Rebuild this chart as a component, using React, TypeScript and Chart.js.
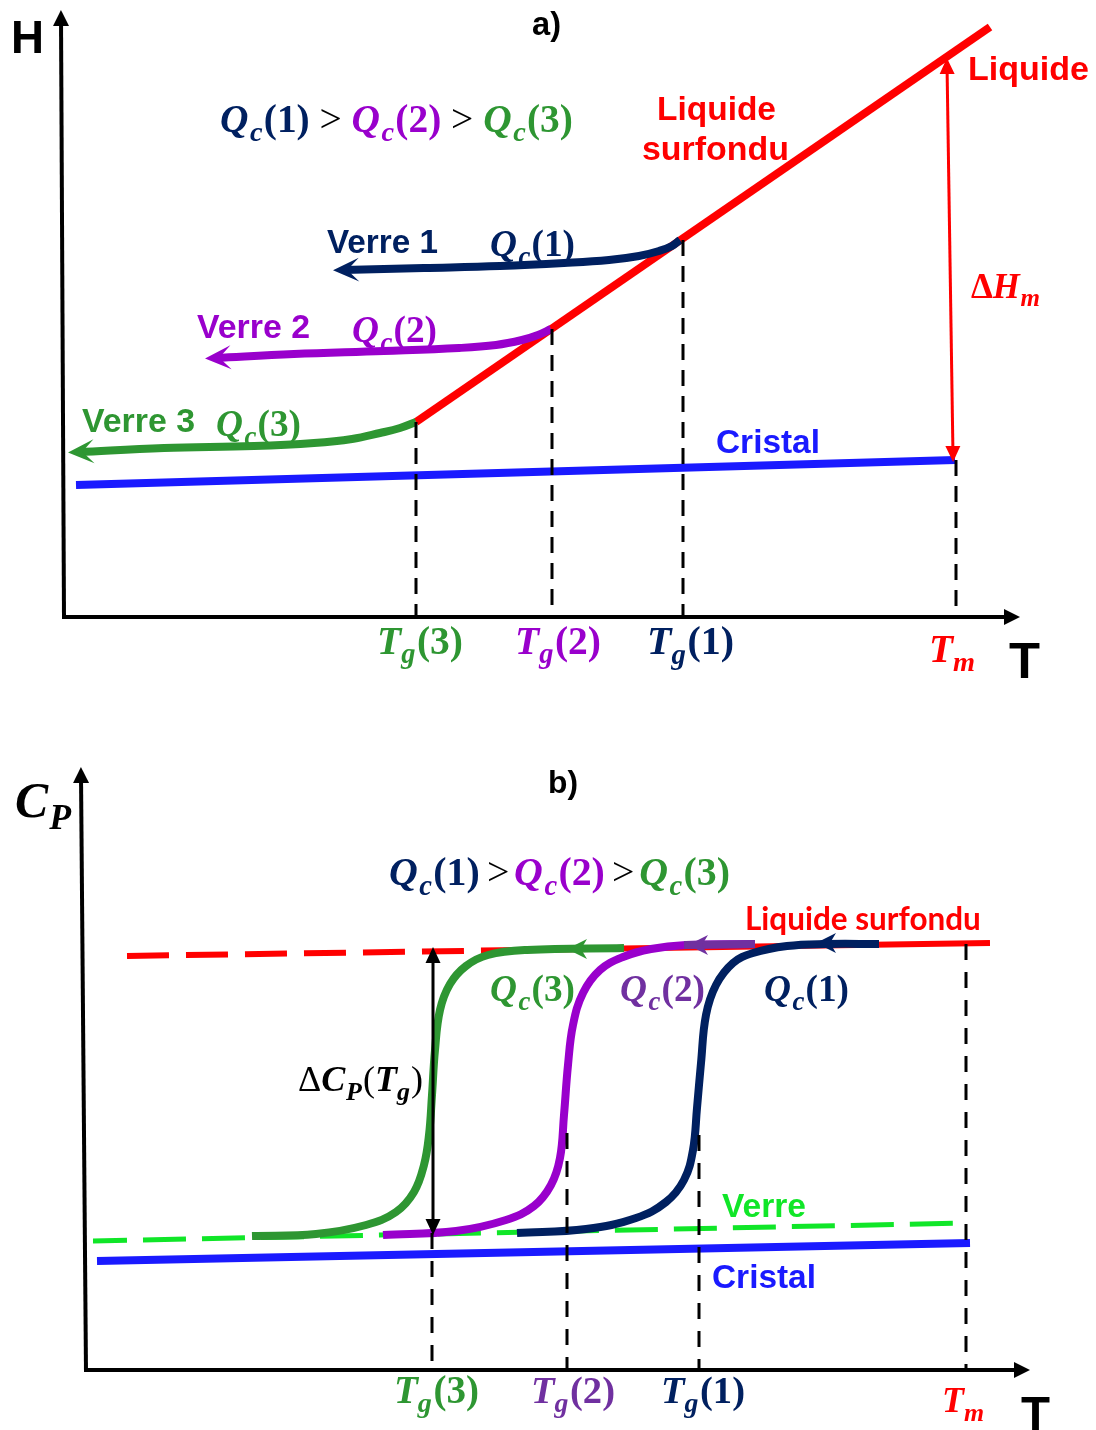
import React, { useEffect, useRef } from "react";
import { Chart, registerables } from "chart.js";

Chart.register(...registerables);

// ---------------- colours ----------------
const NAVY = "#002060";
const PURPLE = "#9900CC";
const PURPLE_D = "#7030A0";
const GREEN = "#2E9632";
const RED = "#FF0000";
const BLUE = "#1A1AFF";
const LIME = "#10E628";
const BLACK = "#000000";

const SANS = '"Liberation Sans", Arial, sans-serif';
const SERIF = '"Liberation Serif", "Times New Roman", serif';
const CALIBRI = 'Lato, "Liberation Sans", sans-serif';

// ================= PANEL a : H(T) (arbitrary units) =================
const A_LIQUID_T = [352, 926];
const A_LIQUID_H = [195, 590];
const A_CRYSTAL_T = [12, 891];
const A_CRYSTAL_H = [132, 157];
const A_GLASS1_T = [280, 360, 436, 500, 545, 575, 595, 608, 616];
const A_GLASS1_H = [347, 349, 351, 354, 357, 361, 366, 371, 377];
const A_GLASS2_T = [152, 230, 320, 395, 432, 458, 474, 487];
const A_GLASS2_H = [259, 263, 266, 269, 272, 277, 282, 288];
const A_GLASS3_T = [15, 100, 190, 250, 288, 316, 336, 352];
const A_GLASS3_H = [165, 169, 171, 174, 178, 184, 189, 195];
const A_TG_T = [352, 488, 619]; // Tg(3), Tg(2), Tg(1)
const A_TG_H = [195, 288, 377];
const A_TM_T = 892;
const A_TM_H = 157;
const A_DH_T = [889, 883]; // ΔHm arrow (bottom -> top)
const A_DH_H = [161, 553];
const A_YAXIS_T = [0, -3];
const A_YAXIS_H = [-2, 599];
const A_XAXIS_T = [-2, 948];
const A_XAXIS_H = [0, 0];

// ================= PANEL b : Cp(T) (arbitrary units) =================
const B_LIQUID_DASH_T = [41, 436];
const B_LIQUID_DASH_H = [414, 420];
const B_LIQUID_SOLID_T = [436, 904];
const B_LIQUID_SOLID_H = [420, 427];
const B_GLASSLINE_T = [7, 882];
const B_GLASSLINE_H = [129, 147];
const B_CRYSTAL_T = [11, 884];
const B_CRYSTAL_H = [109, 127];
const B_CP3_T = [166, 230, 280, 310, 328, 338, 343, 346, 349, 354, 364, 380, 402, 441, 538];
const B_CP3_H = [134, 136, 145, 158, 178, 205, 235, 275, 320, 360, 386, 404, 415, 420, 422];
const B_CP2_T = [297, 370, 420, 448, 465, 474, 478, 482, 487, 497, 514, 537, 565, 600, 669];
const B_CP2_H = [135, 139, 150, 164, 185, 212, 255, 305, 345, 377, 400, 413, 421, 425, 426];
const B_CP2_TAIL_T = [598, 669];
const B_CP2_TAIL_H = [425, 426];
const B_CP1_T = [431, 500, 550, 580, 598, 607, 611, 615, 620, 630, 647, 667, 701, 740, 793];
const B_CP1_H = [137, 141, 152, 168, 190, 220, 262, 307, 355, 385, 407, 417, 424, 426, 426];
const B_MID_ARROW_T = [481, 602, 730];
const B_MID_ARROW_H = [421, 425, 427];
const B_TG_T = [346, 481, 613];
const B_TG_H = [137, 237, 235];
const B_TM_T = 880;
const B_TM_H = 426;
const B_DCP_T = [347, 347];
const B_DCP_H = [141, 417];
const B_YAXIS_T = [0, -5];
const B_YAXIS_H = [-2, 595];
const B_XAXIS_T = [-2, 936];
const B_XAXIS_H = [0, 0];

// ---------------- helpers ----------------
type Part = { s: string; it?: boolean; b?: boolean; sub?: boolean; color?: string; fam?: string; pre?: number };
type TextSpec = { t: number; h: number; w: number; size: number; fam: string; color: string; parts: Part[] };
type ArrowSpec = { from: number[]; to: number[]; color: string; L: number; W: number; notch: number; ext: number };

const pts = (T: number[], H: number[]) => T.map((t, i) => ({ x: t, y: H[i] }));

function line(T: number[], H: number[], color: string, width: number, o: any = {}) {
  return {
    data: pts(T, H),
    showLine: true,
    borderColor: color,
    backgroundColor: color,
    borderWidth: width,
    borderDash: o.dash || [],
    borderDashOffset: o.dashOffset || 0,
    pointRadius: 0,
    pointHoverRadius: 0,
    cubicInterpolationMode: "default",
    tension: o.smooth ? 0.4 : 0,
    borderCapStyle: "butt",
    borderJoinStyle: "round",
    clip: false,
    fill: false,
  };
}

function endArrow(T: number[], H: number[], at: "start" | "end", color: string, L: number, W: number, notch: number, ext: number): ArrowSpec {
  const n = T.length;
  if (at === "end") return { from: [T[n - 2], H[n - 2]], to: [T[n - 1], H[n - 1]], color, L, W, notch, ext };
  return { from: [T[1], H[1]], to: [T[0], H[0]], color, L, W, notch, ext };
}

const Qc = (n: string, color: string): Part[] => [
  { s: "Q", it: true, b: true, color },
  { s: "c", it: true, b: true, sub: true, color, pre: 0.04 },
  { s: "(" + n + ")", b: true, color, pre: 0.03 },
];
const Tg = (n: string, color: string): Part[] => [
  { s: "T", it: true, b: true, color },
  { s: "g", it: true, b: true, sub: true, color, pre: 0.0 },
  { s: "(" + n + ")", b: true, color, pre: 0.04 },
];
const Tm: Part[] = [
  { s: "T", it: true, b: true },
  { s: "m", it: true, b: true, sub: true, pre: 0.0 },
];
const word = (s: string): Part[] => [{ s, b: true }];

function drawArrow(ctx: CanvasRenderingContext2D, chart: any, a: ArrowSpec) {
  const xs = chart.scales.x, ys = chart.scales.y;
  const x1 = xs.getPixelForValue(a.from[0]), y1 = ys.getPixelForValue(a.from[1]);
  const x2 = xs.getPixelForValue(a.to[0]), y2 = ys.getPixelForValue(a.to[1]);
  let dx = x2 - x1, dy = y2 - y1;
  const len = Math.hypot(dx, dy) || 1;
  dx /= len; dy /= len;
  const tx = x2 + dx * a.ext, ty = y2 + dy * a.ext;
  const px = -dy, py = dx;
  const bx = tx - dx * a.L, by = ty - dy * a.L;
  const nx = tx - dx * a.L * (1 - a.notch), ny = ty - dy * a.L * (1 - a.notch);
  ctx.beginPath();
  ctx.moveTo(tx, ty);
  ctx.lineTo(bx + px * a.W, by + py * a.W);
  ctx.lineTo(nx, ny);
  ctx.lineTo(bx - px * a.W, by - py * a.W);
  ctx.closePath();
  ctx.fillStyle = a.color;
  ctx.fill();
}

function drawText(ctx: CanvasRenderingContext2D, chart: any, T: TextSpec) {
  const fontOf = (p: Part, size: number) =>
    `${p.it ? "italic " : ""}${p.b ? "bold " : ""}${p.sub ? size * 0.72 : size}px ${p.fam || T.fam}`;
  const measure = (size: number) =>
    T.parts.reduce((acc, p) => {
      ctx.font = fontOf(p, size);
      return acc + ctx.measureText(p.s).width + (p.pre || 0) * size;
    }, 0);
  let size = T.size;
  const m = measure(size);
  if (T.w && m > 0) size = (size * T.w) / m;
  let x = chart.scales.x.getPixelForValue(T.t);
  const y = chart.scales.y.getPixelForValue(T.h);
  ctx.textAlign = "left";
  ctx.textBaseline = "alphabetic";
  for (const p of T.parts) {
    x += (p.pre || 0) * size;
    ctx.font = fontOf(p, size);
    ctx.fillStyle = p.color || T.color;
    ctx.fillText(p.s, x, y + (p.sub ? size * 0.24 : 0));
    x += ctx.measureText(p.s).width;
  }
}

function makeChart(canvas: HTMLCanvasElement, cfg: any) {
  const decor = {
    id: "decor",
    afterDatasetsDraw(chart: any) {
      const ctx = chart.ctx;
      ctx.save();
      for (const a of cfg.arrows) drawArrow(ctx, chart, a);
      for (const t of cfg.texts) drawText(ctx, chart, t);
      ctx.restore();
    },
  };
  const datasets = cfg.datasets.map((d: any, i: number) => ({ ...d, order: -i }));
  return new Chart(canvas, {
    type: "scatter",
    data: { datasets },
    options: {
      animation: false,
      responsive: false,
      maintainAspectRatio: false,
      devicePixelRatio: 1,
      events: [],
      layout: { padding: 0 },
      plugins: { legend: { display: false }, tooltip: { enabled: false }, title: { display: false } },
      scales: {
        x: { type: "linear", min: cfg.xMin, max: cfg.xMax, display: false },
        y: { type: "linear", min: cfg.yMin, max: cfg.yMax, display: false },
      },
    },
    plugins: [decor],
  } as any);
}

// ---------------- panel a config ----------------
function panelA() {
  const dash = { dash: [16, 10] };
  const datasets = [
    line(A_CRYSTAL_T, A_CRYSTAL_H, BLUE, 8),
    line(A_LIQUID_T, A_LIQUID_H, RED, 8),
    line(A_GLASS3_T, A_GLASS3_H, GREEN, 8, { smooth: true }),
    line(A_GLASS2_T, A_GLASS2_H, PURPLE, 8, { smooth: true }),
    line(A_GLASS1_T, A_GLASS1_H, NAVY, 8, { smooth: true }),
    ...A_TG_T.map((t, i) => line([t, t], [A_TG_H[i], 0], BLACK, 3, dash)),
    line([A_TM_T, A_TM_T], [A_TM_H, 0], BLACK, 3, dash),
    line(A_DH_T, A_DH_H, RED, 3),
    line(A_YAXIS_T, A_YAXIS_H, BLACK, 4),
    line(A_XAXIS_T, A_XAXIS_H, BLACK, 4),
  ];
  const arrows: ArrowSpec[] = [
    endArrow(A_GLASS1_T, A_GLASS1_H, "start", NAVY, 26, 12, 0.45, 11),
    endArrow(A_GLASS2_T, A_GLASS2_H, "start", PURPLE, 26, 12, 0.45, 11),
    endArrow(A_GLASS3_T, A_GLASS3_H, "start", GREEN, 26, 12, 0.45, 11),
    endArrow(A_DH_T, A_DH_H, "start", RED, 16, 7.5, 0, 6),
    endArrow(A_DH_T, A_DH_H, "end", RED, 16, 7.5, 0, 6),
    endArrow(A_YAXIS_T, A_YAXIS_H, "end", BLACK, 16, 8, 0, 8),
    endArrow(A_XAXIS_T, A_XAXIS_H, "end", BLACK, 16, 8, 0, 8),
  ];
  const texts: TextSpec[] = [
    { t: -53, h: 564, w: 33, size: 46, fam: SANS, color: BLACK, parts: word("H") },
    { t: 468, h: 582, w: 29, size: 30, fam: SANS, color: BLACK, parts: word("a)") },
    {
      t: 156, h: 485, w: 353, size: 35, fam: SERIF, color: BLACK,
      parts: [...Qc("1", NAVY), { s: " > " }, ...Qc("2", PURPLE), { s: " > " }, ...Qc("3", GREEN)],
    },
    { t: 593, h: 497, w: 119, size: 33, fam: SANS, color: RED, parts: word("Liquide") },
    { t: 578, h: 457, w: 147, size: 33, fam: SANS, color: RED, parts: word("surfondu") },
    { t: 904, h: 537, w: 121, size: 33, fam: SANS, color: RED, parts: word("Liquide") },
    {
      t: 907, h: 319, w: 69, size: 32, fam: SERIF, color: RED,
      parts: [{ s: "Δ", b: true }, { s: "H", it: true, b: true }, { s: "m", it: true, b: true, sub: true, pre: 0.02 }],
    },
    { t: 263, h: 364, w: 111, size: 32, fam: SANS, color: NAVY, parts: word("Verre 1") },
    { t: 426, h: 361, w: 85, size: 34, fam: SERIF, color: NAVY, parts: Qc("1", NAVY) },
    { t: 133, h: 279, w: 113, size: 32, fam: SANS, color: PURPLE, parts: word("Verre 2") },
    { t: 288, h: 275, w: 85, size: 34, fam: SERIF, color: PURPLE, parts: Qc("2", PURPLE) },
    { t: 18, h: 185, w: 113, size: 32, fam: SANS, color: GREEN, parts: word("Verre 3") },
    { t: 152, h: 181, w: 85, size: 34, fam: SERIF, color: GREEN, parts: Qc("3", GREEN) },
    { t: 652, h: 164, w: 104, size: 33, fam: SANS, color: BLUE, parts: word("Cristal") },
    { t: 313, h: -37, w: 86, size: 34, fam: SERIF, color: GREEN, parts: Tg("3", GREEN) },
    { t: 451, h: -37, w: 86, size: 34, fam: SERIF, color: PURPLE, parts: Tg("2", PURPLE) },
    { t: 583, h: -37, w: 87, size: 34, fam: SERIF, color: NAVY, parts: Tg("1", NAVY) },
    { t: 865, h: -45, w: 46, size: 34, fam: SERIF, color: RED, parts: Tm },
    { t: 945, h: -61, w: 31, size: 52, fam: SANS, color: BLACK, parts: word("T") },
  ];
  return { xMin: -64, xMax: 1032, yMin: -83, yMax: 617, datasets, arrows, texts };
}

// ---------------- panel b config ----------------
function panelB() {
  const dash = { dash: [16, 12] };
  const datasets = [
    line(B_GLASSLINE_T, B_GLASSLINE_H, LIME, 5, { dash: [43, 16], dashOffset: 9 }),
    line(B_CRYSTAL_T, B_CRYSTAL_H, BLUE, 8),
    line(B_LIQUID_DASH_T, B_LIQUID_DASH_H, RED, 6, { dash: [42, 17] }),
    line(B_LIQUID_SOLID_T, B_LIQUID_SOLID_H, RED, 6),
    line(B_CP3_T, B_CP3_H, GREEN, 8, { smooth: true }),
    line(B_CP2_T, B_CP2_H, PURPLE, 8, { smooth: true }),
    line(B_CP2_TAIL_T, B_CP2_TAIL_H, PURPLE_D, 8),
    line(B_CP1_T, B_CP1_H, NAVY, 8, { smooth: true }),
    ...B_TG_T.map((t, i) => line([t, t], [B_TG_H[i], 0], BLACK, 3, dash)),
    line([B_TM_T, B_TM_T], [B_TM_H, 0], BLACK, 3, dash),
    line(B_DCP_T, B_DCP_H, BLACK, 3),
    line(B_YAXIS_T, B_YAXIS_H, BLACK, 4),
    line(B_XAXIS_T, B_XAXIS_H, BLACK, 4),
  ];
  const midColors = [GREEN, PURPLE_D, NAVY];
  const arrows: ArrowSpec[] = [
    ...B_MID_ARROW_T.map((t, i) => ({
      from: [t + 20, B_MID_ARROW_H[i]], to: [t, B_MID_ARROW_H[i]], color: midColors[i], L: 20, W: 10, notch: 0.3, ext: 0,
    })),
    endArrow(B_DCP_T, B_DCP_H, "start", BLACK, 16, 7.5, 0, 6),
    endArrow(B_DCP_T, B_DCP_H, "end", BLACK, 16, 7.5, 0, 6),
    endArrow(B_YAXIS_T, B_YAXIS_H, "end", BLACK, 16, 8, 0, 8),
    endArrow(B_XAXIS_T, B_XAXIS_H, "end", BLACK, 16, 8, 0, 8),
  ];
  const texts: TextSpec[] = [
    {
      t: -71, h: 553, w: 56, size: 56, fam: SERIF, color: BLACK,
      parts: [{ s: "C", it: true, b: true }, { s: "P", it: true, b: true, sub: true, pre: 0.02 }],
    },
    { t: 462, h: 577, w: 30, size: 30, fam: SANS, color: BLACK, parts: word("b)") },
    {
      t: 303, h: 485, w: 341, size: 35, fam: SERIF, color: BLACK,
      parts: [
        ...Qc("1", NAVY), { s: ">", pre: 0.18 }, { s: "", pre: 0.12 },
        ...Qc("2", PURPLE), { s: ">", pre: 0.18 }, { s: "", pre: 0.12 }, ...Qc("3", GREEN),
      ],
    },
    { t: 659, h: 440, w: 236, size: 30, fam: CALIBRI, color: RED, parts: word("Liquide surfondu") },
    { t: 404, h: 369, w: 85, size: 34, fam: SERIF, color: GREEN, parts: Qc("3", GREEN) },
    { t: 534, h: 369, w: 85, size: 34, fam: SERIF, color: PURPLE_D, parts: Qc("2", PURPLE_D) },
    { t: 678, h: 369, w: 85, size: 34, fam: SERIF, color: NAVY, parts: Qc("1", NAVY) },
    {
      t: 212, h: 279, w: 125, size: 32, fam: SERIF, color: BLACK,
      parts: [
        { s: "Δ" }, { s: "C", it: true, b: true }, { s: "P", it: true, b: true, sub: true, pre: 0.02 },
        { s: "(", pre: 0.03 }, { s: "T", it: true, b: true }, { s: "g", it: true, b: true, sub: true }, { s: ")", pre: 0.03 },
      ],
    },
    { t: 636, h: 153, w: 84, size: 33, fam: SANS, color: LIME, parts: word("Verre") },
    { t: 626, h: 82, w: 104, size: 33, fam: SANS, color: BLUE, parts: word("Cristal") },
    { t: 308, h: -33, w: 85, size: 34, fam: SERIF, color: GREEN, parts: Tg("3", GREEN) },
    { t: 445, h: -33, w: 84, size: 34, fam: SERIF, color: PURPLE_D, parts: Tg("2", PURPLE_D) },
    { t: 575, h: -33, w: 84, size: 34, fam: SERIF, color: NAVY, parts: Tg("1", NAVY) },
    { t: 856, h: -42, w: 42, size: 34, fam: SERIF, color: RED, parts: Tm },
    { t: 935, h: -60, w: 29, size: 50, fam: SANS, color: BLACK, parts: word("T") },
  ];
  return { xMin: -86, xMax: 1010, yMin: -60, yMax: 670, datasets, arrows, texts };
}

export default function App() {
  const refA = useRef<HTMLCanvasElement>(null);
  const refB = useRef<HTMLCanvasElement>(null);
  useEffect(() => {
    const ca = makeChart(refA.current as HTMLCanvasElement, panelA());
    const cb = makeChart(refB.current as HTMLCanvasElement, panelB());
    return () => {
      ca.destroy();
      cb.destroy();
    };
  }, []);
  return (
    <div style={{ position: "absolute", left: 0, top: 0, width: 1096, height: 1430, background: "#ffffff", overflow: "hidden" }}>
      <canvas ref={refA} width={1096} height={700} style={{ position: "absolute", left: 0, top: 0, width: 1096, height: 700 }} />
      <canvas ref={refB} width={1096} height={730} style={{ position: "absolute", left: 0, top: 700, width: 1096, height: 730 }} />
    </div>
  );
}
